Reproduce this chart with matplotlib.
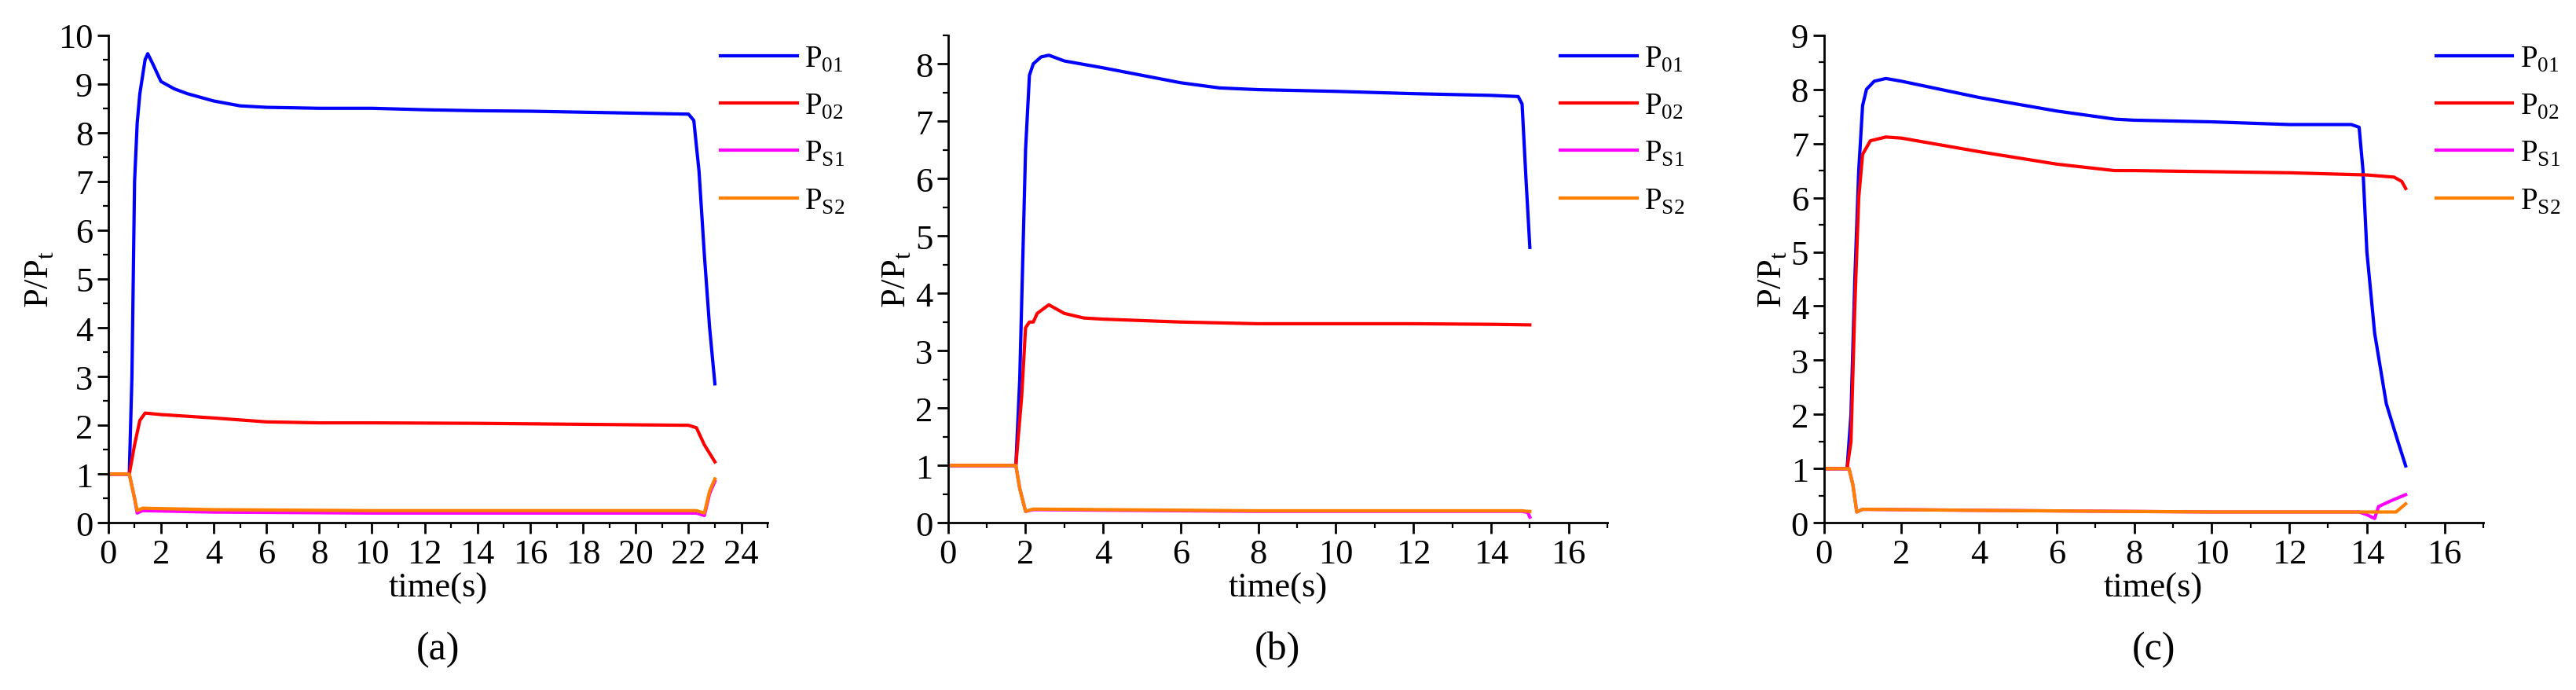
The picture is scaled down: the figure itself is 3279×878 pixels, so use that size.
import matplotlib
matplotlib.use("Agg")
import matplotlib.pyplot as plt
from matplotlib.ticker import MultipleLocator

plt.rcParams['font.family'] = ['Liberation Serif', 'DejaVu Serif']
plt.rcParams['mathtext.fontset'] = 'custom'
plt.rcParams['mathtext.rm'] = 'Liberation Serif'

series_names = [r'P$_\mathregular{01}$', r'P$_\mathregular{02}$',
                r'P$_\mathregular{S1}$', r'P$_\mathregular{S2}$']
colors = ['#0000ff', '#ff0000', '#ff00ff', '#ff8000']

# ---- panel (a)
a_p01_t = [0, 0.8, 0.9, 1.0, 1.1, 1.2, 1.4, 1.5, 1.7, 2.0, 2.5, 3, 4, 5, 6, 8, 10, 12, 14, 16, 18, 20, 22, 22.2, 22.4, 22.6, 22.8, 23.0]
a_p01 = [1, 1, 3, 7, 8.2, 8.8, 9.5, 9.62, 9.4, 9.05, 8.9, 8.8, 8.65, 8.55, 8.52, 8.5, 8.5, 8.47, 8.45, 8.44, 8.42, 8.4, 8.38, 8.25, 7.2, 5.5, 4.0, 2.85]
a_p02_t = [0, 0.8, 1.0, 1.2, 1.4, 2, 4, 6, 8, 10, 14, 18, 22, 22.3, 22.6, 23.0]
a_p02 = [1, 1, 1.6, 2.1, 2.25, 2.22, 2.15, 2.07, 2.05, 2.05, 2.04, 2.02, 2.0, 1.95, 1.6, 1.25]
a_ps_t = [0, 0.8, 1.0, 1.1, 1.3, 4, 10, 20, 22.3, 22.6, 22.8, 23.0]
a_ps1 = [1, 1, 0.5, 0.2, 0.25, 0.22, 0.2, 0.2, 0.2, 0.15, 0.6, 0.85]
a_ps2 = [1, 1, 0.5, 0.25, 0.3, 0.27, 0.25, 0.25, 0.25, 0.2, 0.65, 0.9]

# ---- panel (b)
b_p01_t = [0, 1.75, 1.85, 2.0, 2.1, 2.2, 2.4, 2.6, 3, 4, 5, 6, 7, 8, 10, 12, 14, 14.7, 14.8, 14.9, 15.0]
b_p01 = [1, 1, 2.5, 6.5, 7.8, 8.0, 8.12, 8.15, 8.05, 7.93, 7.8, 7.67, 7.58, 7.55, 7.52, 7.48, 7.45, 7.43, 7.3, 6.0, 4.8]
b_p02_t = [0, 1.75, 1.9, 2.0, 2.1, 2.2, 2.3, 2.6, 3, 3.5, 4, 6, 8, 10, 12, 14, 15]
b_p02 = [1, 1, 2.2, 3.4, 3.5, 3.5, 3.65, 3.8, 3.65, 3.57, 3.55, 3.5, 3.47, 3.47, 3.47, 3.46, 3.45]
b_ps_t = [0, 1.75, 1.85, 2.0, 2.2, 4, 8, 12, 14.8, 14.95, 15]
b_ps1 = [1, 1, 0.6, 0.2, 0.23, 0.22, 0.2, 0.2, 0.2, 0.18, 0.1]
b_ps2 = [1, 1, 0.6, 0.2, 0.24, 0.23, 0.21, 0.21, 0.21, 0.2, 0.2]

# ---- panel (c)
c_p01_t = [0, 0.6, 0.7, 0.8, 0.9, 1.0, 1.1, 1.3, 1.6, 2, 4, 6, 7.5, 8, 10, 12, 13.6, 13.8, 13.9, 14.0, 14.2, 14.5, 14.8, 15.0]
c_p01 = [1, 1, 2, 4.5, 6.5, 7.7, 8.0, 8.15, 8.2, 8.15, 7.85, 7.6, 7.45, 7.43, 7.4, 7.35, 7.35, 7.3, 6.5, 5.0, 3.5, 2.2, 1.5, 1.05]
c_p02_t = [0, 0.6, 0.7, 0.8, 0.9, 1.0, 1.2, 1.6, 2, 4, 6, 7.5, 8, 10, 12, 14, 14.7, 14.9, 15]
c_p02 = [1, 1, 1.5, 4, 6, 6.8, 7.05, 7.12, 7.1, 6.85, 6.62, 6.5, 6.5, 6.48, 6.46, 6.42, 6.38, 6.3, 6.17]
c_ps1_t = [0, 0.65, 0.75, 0.85, 1.0, 4, 10, 13.8, 14.0, 14.2, 14.3, 14.6, 15]
c_ps1 = [1, 1, 0.7, 0.2, 0.25, 0.23, 0.2, 0.2, 0.15, 0.08, 0.3, 0.4, 0.52]
c_ps2_t = [0, 0.65, 0.75, 0.85, 1.0, 4, 10, 13.8, 14.75, 15]
c_ps2 = [1, 1, 0.7, 0.2, 0.25, 0.23, 0.2, 0.2, 0.2, 0.35]

panels = [
    dict(lines=[(a_p01_t, a_p01), (a_p02_t, a_p02), (a_ps_t, a_ps1), (a_ps_t, a_ps2)],
         xmax=25, ymax=10, left=0.042, tag='(a)'),
    dict(lines=[(b_p01_t, b_p01), (b_p02_t, b_p02), (b_ps_t, b_ps1), (b_ps_t, b_ps2)],
         xmax=17, ymax=8.5, left=0.368, tag='(b)'),
    dict(lines=[(c_p01_t, c_p01), (c_p02_t, c_p02), (c_ps1_t, c_ps1), (c_ps2_t, c_ps2)],
         xmax=17, ymax=9, left=0.708, tag='(c)'),
]

fig = plt.figure(figsize=(32.79, 8.79), dpi=100)
fs = 32
for p in panels:
    ax = fig.add_axes([p['left'], 0.242, 0.256, 0.706])
    for (t, v), name, col in zip(p['lines'], series_names, colors):
        ax.plot(t, v, color=col, lw=3, label=name)
    ax.set_xlim(0, p['xmax'])
    ax.set_ylim(0, p['ymax'])
    ax.xaxis.set_major_locator(MultipleLocator(2))
    ax.xaxis.set_minor_locator(MultipleLocator(1))
    ax.yaxis.set_major_locator(MultipleLocator(1))
    ax.yaxis.set_minor_locator(MultipleLocator(0.5))
    ax.spines['top'].set_visible(False)
    ax.spines['right'].set_visible(False)
    for s in ('left', 'bottom'):
        ax.spines[s].set_linewidth(2)
    ax.tick_params(which='major', direction='out', length=10, width=2, labelsize=fs, pad=4)
    ax.tick_params(which='minor', direction='out', length=5, width=1.6)
    ax.set_xlabel('time(s)', fontsize=fs, labelpad=2)
    ax.set_ylabel(r'P/P$_\mathregular{t}$', fontsize=fs, labelpad=2)
    ax.legend(loc='upper left', bbox_to_anchor=(0.915, 1.0), frameon=False,
              fontsize=28, handlelength=2.5, handletextpad=0.25,
              labelspacing=0.6, borderaxespad=0.2, borderpad=0.1)
    fig.text(p['left'] + 0.256 * 0.5, 0.045, p['tag'], ha='center', fontsize=fs + 4)

fig.savefig('out.png', dpi=100)
